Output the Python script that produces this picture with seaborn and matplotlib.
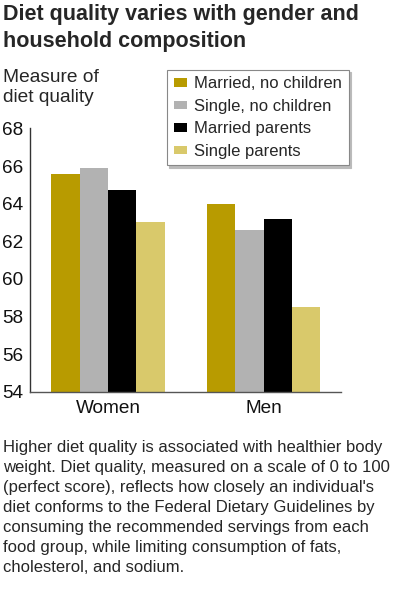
import matplotlib
matplotlib.use("Agg")
import matplotlib.pyplot as plt
import seaborn as sns
import pandas as pd

genders = ["Women", "Men"]
groups = ["Married, no children", "Single, no children", "Married parents", "Single parents"]
women = [65.6, 65.9, 64.7, 63.0]
men = [64.0, 62.6, 63.2, 58.5]
colors = ["#B89B00", "#B2B2B2", "#000000", "#D9C96B"]
yticks = [54, 56, 58, 60, 62, 64, 66, 68]

rows = []
for g, vals in zip(genders, [women, men]):
    for grp, v in zip(groups, vals):
        rows.append({"gender": g, "group": grp, "value": v})
df = pd.DataFrame(rows)

sns.set_theme(style="white")
plt.rcParams["font.family"] = ["Liberation Sans", "DejaVu Sans"]

fig = plt.figure(figsize=(4, 6), dpi=100)
ax = fig.add_axes([0.076, 0.347, 0.777, 0.439])
sns.barplot(data=df, x="gender", y="value", hue="group", order=genders,
            hue_order=groups, palette=colors, saturation=1, width=0.73, gap=0,
            edgecolor="none", linewidth=0, ax=ax, legend=True)
for bar in ax.patches:
    y0 = bar.get_y()
    h = bar.get_height()
    bar.set_y(54)
    bar.set_height(y0 + h - 54)
ax.set_ylim(54, 68)
ax.set_xlim(-0.5, 1.5)
ax.set_yticks(yticks)
ax.set_yticklabels([str(t) for t in yticks], fontsize=13.7, color="#111111")
ax.tick_params(axis="both", length=0)
ax.tick_params(axis="y", pad=5)
ax.tick_params(axis="x", pad=6, labelsize=13.7, labelcolor="#111111")
ax.set_xlabel("")
ax.set_ylabel("")
for s in ["top", "right"]:
    ax.spines[s].set_visible(False)
ax.spines["left"].set_color("#333333")
ax.spines["bottom"].set_color("#555555")
ax.spines["left"].set_linewidth(1.0)
ax.spines["bottom"].set_linewidth(1.0)

handles, labels = ax.get_legend_handles_labels()
ax.legend_.remove()
leg = fig.legend(handles, labels, loc="upper left", bbox_to_anchor=(0.4175, 0.884),
                 frameon=True, fancybox=False,
                 shadow={"color": "#bbbbbb", "alpha": 1, "ox": 1.5, "oy": -1.5},
                 fontsize=12,
                 handlelength=0.8, handleheight=0.4, handletextpad=0.45,
                 labelspacing=0.45, borderpad=0.4, borderaxespad=0)
leg.get_frame().set_edgecolor("#888888")
leg.get_frame().set_linewidth(0.8)

fig.text(0.008, 0.993, "Diet quality varies with gender and\nhousehold composition",
         fontsize=15.5, fontweight="bold", va="top", ha="left", linespacing=1.35)
fig.text(0.008, 0.885, "Measure of\ndiet quality", fontsize=13.8, va="top", ha="left",
         linespacing=1.2)
note = ("Higher diet quality is associated with healthier body\n"
        "weight. Diet quality, measured on a scale of 0 to 100\n"
        "(perfect score), reflects how closely an individual's\n"
        "diet conforms to the Federal Dietary Guidelines by\n"
        "consuming the recommended servings from each\n"
        "food group, while limiting consumption of fats,\n"
        "cholesterol, and sodium.")
fig.text(0.008, 0.267, note, fontsize=12, va="top", ha="left", linespacing=1.42)

fig.savefig("out.png", dpi=100)
